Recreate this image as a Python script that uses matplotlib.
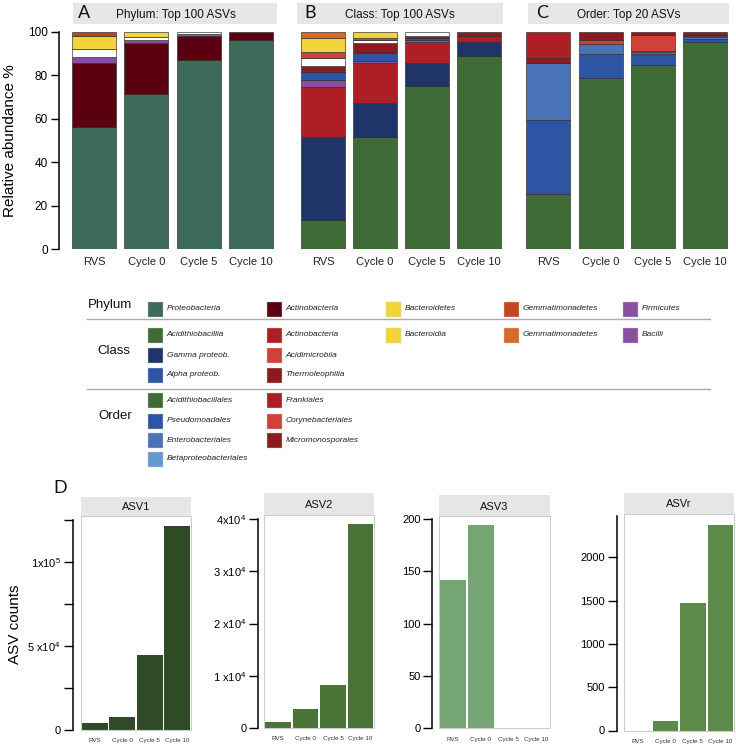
import numpy as np
import matplotlib
matplotlib.use('Agg')
import matplotlib.pyplot as plt
from matplotlib.patches import Rectangle

plt.rcParams['font.family'] = ['Liberation Sans', 'DejaVu Sans']
plt.rcParams['mathtext.fontset'] = 'custom'
plt.rcParams['mathtext.rm'] = 'Liberation Sans'
plt.rcParams['mathtext.it'] = 'Liberation Sans:italic'
plt.rcParams['mathtext.default'] = 'regular'

# ---- data ----
samples = ['RVS', 'Cycle 0', 'Cycle 5', 'Cycle 10']

# stacked from bottom to top, one row per taxon, one column per sample
phylum_names = ['Proteobacteria', 'Actinobacteria', 'Firmicutes', 'Other',
                'Bacteroidetes', 'Gemmatimonadetes']
phylum_values = [
    [56.0, 71.5, 87.0, 96.5],
    [29.5, 23.5, 11.0, 3.5],
    [3.0, 1.5, 1.3, 0.0],
    [3.5, 1.0, 0.7, 0.0],
    [6.0, 2.5, 0.0, 0.0],
    [2.0, 0.0, 0.0, 0.0],
]
phylum_colors = ['#3D6B5A', '#5A0010', '#8A4F9E', '#FFFFFF', '#F2D33A', '#C1461E']

class_names = ['Acidithiobacillia', 'Gamma proteob.', 'Actinobacteria', 'Bacilli',
               'Alpha proteob.', 'Thermoleophilia', 'Other', 'Acidimicrobiia',
               'Bacteroidia', 'Gemmatimonadetes']
class_values = [
    [13.2, 51.5, 75.3, 89.1],
    [38.5, 15.6, 10.2, 6.1],
    [23.1, 18.4, 9.7, 3.1],
    [2.9, 1.3, 1.3, 0.0],
    [4.0, 3.7, 0.8, 0.0],
    [2.6, 4.3, 0.9, 1.7],
    [3.6, 1.3, 1.8, 0.0],
    [3.0, 1.2, 0.0, 0.0],
    [6.5, 2.7, 0.0, 0.0],
    [2.6, 0.0, 0.0, 0.0],
]
class_colors = ['#3E6B36', '#1F3468', '#AE1F25', '#8A4F9E', '#2E55A3', '#8C1B21',
                '#FFFFFF', '#D1403A', '#F2D33A', '#D7692B']

order_names = ['Acidithiobacillales', 'Pseudomoadales', 'Enterobacteriales',
               'Betaproteobacteriales', 'Corynebacteriales', 'Micromonosporales',
               'Frankiales']
order_values = [
    [25.3, 78.6, 85.0, 95.6],
    [34.0, 11.1, 4.8, 1.4],
    [26.2, 4.6, 0.8, 0.6],
    [0.0, 0.0, 0.7, 0.4],
    [0.0, 2.0, 7.2, 0.8],
    [2.5, 3.7, 1.5, 1.2],
    [12.0, 0.0, 0.0, 0.0],
]
order_colors = ['#3E6B36', '#2E55A3', '#4873B7', '#6699CF', '#D1403A', '#8C1B21', '#AE1F25']

# legend entries: (label, colour, row, column)
legend_phylum = [('Proteobacteria', '#3D6B5A', 0, 0), ('Actinobacteria', '#5A0010', 0, 1),
                 ('Bacteroidetes', '#F2D33A', 0, 2), ('Gemmatimonadetes', '#C1461E', 0, 3),
                 ('Firmicutes', '#8A4F9E', 0, 4)]
legend_class = [('Acidithiobacillia', '#3E6B36', 0, 0), ('Gamma proteob.', '#1F3468', 1, 0),
                ('Alpha proteob.', '#2E55A3', 2, 0), ('Actinobacteria', '#AE1F25', 0, 1),
                ('Acidimicrobiia', '#D1403A', 1, 1), ('Thermoleophilia', '#8C1B21', 2, 1),
                ('Bacteroidia', '#F2D33A', 0, 2), ('Gemmatimonadetes', '#D7692B', 0, 3),
                ('Bacilli', '#8A4F9E', 0, 4)]
legend_order = [('Acidithiobacillales', '#3E6B36', 0, 0), ('Pseudomoadales', '#2E55A3', 1, 0),
                ('Enterobacteriales', '#4873B7', 2, 0), ('Betaproteobacteriales', '#6699CF', 3, 0),
                ('Frankiales', '#AE1F25', 0, 1), ('Corynebacteriales', '#D1403A', 1, 1),
                ('Micromonosporales', '#8C1B21', 2, 1)]

asv_names = ['ASV1', 'ASV2', 'ASV3', 'ASVr']
asv1_counts = [4300, 7500, 44500, 121000]
asv2_counts = [1150, 3700, 8200, 39000]
asv3_counts = [142, 194, 0, 0]
asvr_counts = [0, 115, 1473, 2374]

# ---- layout helpers (pixel boxes) ----
W, H = 736, 750
fig = plt.figure(figsize=(W / 100, H / 100), dpi=100)


def box(x0, y0, x1, y1):
    return [x0 / W, 1 - y1 / H, (x1 - x0) / W, (y1 - y0) / H]


def strip(x0, y0, x1, y1, text, letter=None, tx=None, lx=None, size=8.5):
    s = fig.add_axes(box(x0, y0, x1, y1))
    s.set_facecolor('#E6E6E6')
    s.set_xticks([])
    s.set_yticks([])
    for sp in s.spines.values():
        sp.set_visible(False)
    s.set_xlim(x0, x1)
    s.set_ylim(0, 1)
    s.text(tx if tx is not None else (x0 + x1) / 2, 0.45, text, ha='center',
           va='center', fontsize=size, color='#111111')
    if letter:
        s.text(lx, 0.5, letter, ha='center', va='center', fontsize=13,
               color='#111111', family=['Lato', 'DejaVu Sans'])


# legend layer drawn in pixel coordinates
lg = fig.add_axes([0, 0, 1, 1])
lg.set_xlim(0, W)
lg.set_ylim(H, 0)
lg.axis('off')

x = np.arange(len(samples))


def stacked(ax, values, colors):
    bottom = np.zeros(len(samples))
    for vals, col in zip(values, colors):
        vals = np.array(vals, dtype=float)
        m = vals > 0
        ax.bar(x[m], vals[m], 0.84, bottom=bottom[m], color=col,
               edgecolor='#2a2a2a', linewidth=0.45)
        bottom += vals
    ax.set_xlim(-0.5, 3.5)
    ax.set_ylim(0, 100)
    ax.set_xticks(x)
    ax.set_xticklabels(samples, fontsize=8, color='#222222')
    ax.tick_params(axis='x', length=0, pad=6)
    for sp in ['top', 'right', 'bottom']:
        ax.spines[sp].set_visible(False)
    ax.patch.set_alpha(0)


axA = fig.add_axes(box(67.8, 32, 277, 249))
stacked(axA, phylum_values, phylum_colors)
axA.spines['left'].set_position(('outward', 6.5))
axA.spines['left'].set_bounds(0, 100)
axA.spines['left'].set_linewidth(1.1)
axA.set_yticks([0, 20, 40, 60, 80, 100])
axA.tick_params(axis='y', length=6, width=1, labelsize=8.5, pad=2)
axA.set_ylabel('Relative abundance %', fontsize=11)
axA.yaxis.set_label_coords(-0.245, 0.5)

axB = fig.add_axes(box(297, 32, 505, 249))
stacked(axB, class_values, class_colors)
axC = fig.add_axes(box(522, 32, 731.4, 249))
stacked(axC, order_values, order_colors)
for ax in (axB, axC):
    ax.spines['left'].set_visible(False)
    ax.set_yticks([])

strip(73, 3, 277, 24, 'Phylum: Top 100 ASVs', 'A', tx=175.5, lx=83.5)
strip(297, 3, 503, 24, 'Class: Top 100 ASVs', 'B', tx=400, lx=310)
strip(528, 3, 729, 24, 'Order: Top 20 ASVs', 'C', tx=629, lx=542)

# ---- legend ----
col_x = [147.7, 266.7, 386, 504, 622.7]
lg.plot([87, 710], [319, 319], color='#AAAAAA', lw=1)
lg.plot([87, 710], [388.5, 388.5], color='#AAAAAA', lw=1)
groups = [('Phylum', 109.7, 305, [309], legend_phylum),
          ('Class', 113.5, 351, [335, 355.5, 375], legend_class),
          ('Order', 115.3, 416, [400.5, 421, 440.5, 459], legend_order)]
for title, tx, ty, rows_y, entries in groups:
    lg.text(tx, ty, title, ha='center', va='center', fontsize=9.5, color='#111111')
    for label, col, r, c in entries:
        yc = rows_y[r]
        lg.add_patch(Rectangle((col_x[c], yc - 7.5), 15, 15, facecolor=col,
                               edgecolor='#cccccc', linewidth=0.3))
        lg.text(col_x[c] + 19, yc, label, ha='left', va='center', fontsize=6,
                style='italic', color='#222222')

# ---- panel D ----
asv_counts = [asv1_counts, asv2_counts, asv3_counts, asvr_counts]
asv_colors = ['#2E4A26', '#4A7337', '#76A574', '#5C8A4A']
panels = [
    dict(b=(81, 516, 191, 730), s=(81, 497, 191, 516), top=127150, bound=125000,
         ticks=[0, 25000, 50000, 75000, 100000, 125000],
         labels=['0', '', '5 x10$^4$', '', '1x10$^5$', ''], off=6),
    dict(b=(264.3, 515, 374.3, 728), s=(264.3, 493.3, 374.3, 515), top=40800,
         bound=40000, ticks=[0, 10000, 20000, 30000, 40000],
         labels=['0', '1 x10$^4$', '2 x10$^4$', '3 x10$^4$', '4x10$^4$'], off=4.3),
    dict(b=(439, 516, 550, 728.3), s=(439, 495, 550, 516), top=202.9, bound=200,
         ticks=[0, 50, 100, 150, 200], labels=['0', '50', '100', '150', '200'], off=4.8),
    dict(b=(624, 514, 734.3, 730.5), s=(624, 492.7, 734.3, 514), top=2500, bound=2480,
         ticks=[0, 500, 1000, 1500, 2000], labels=['0', '500', '1000', '1500', '2000'],
         off=5.3),
]
for name, counts, col, p in zip(asv_names, asv_counts, asv_colors, panels):
    ax = fig.add_axes(box(*p['b']))
    ax.bar(x, counts, 0.93, color=col, linewidth=0)
    ax.set_xlim(-0.5, 3.5)
    ax.set_ylim(0, p['top'])
    ax.set_xticks(x)
    ax.set_xticklabels(samples, fontsize=4.5, color='#333333')
    ax.tick_params(axis='x', length=0, pad=6)
    ax.set_yticks(p['ticks'])
    ax.set_yticklabels(p['labels'])
    ax.tick_params(axis='y', length=6.5, width=1, labelsize=8, pad=2)
    for sp in ['top', 'right', 'bottom']:
        ax.spines[sp].set_visible(False)
    ax.spines['left'].set_position(('outward', p['off']))
    ax.spines['left'].set_bounds(0, p['bound'])
    ax.spines['left'].set_linewidth(1.1)
    ax.add_patch(Rectangle((0, 0), 1, 1, transform=ax.transAxes, fill=False,
                           edgecolor='#CCCCCC', linewidth=0.8, clip_on=False))
    strip(*p['s'], name, size=8)

lg.text(60, 488, 'D', ha='center', va='center', fontsize=13, color='#111111',
        family=['Lato', 'DejaVu Sans'])
lg.text(15, 624, 'ASV counts', ha='center', va='center', rotation=90, fontsize=11)

fig.savefig('out.png', dpi=100)
